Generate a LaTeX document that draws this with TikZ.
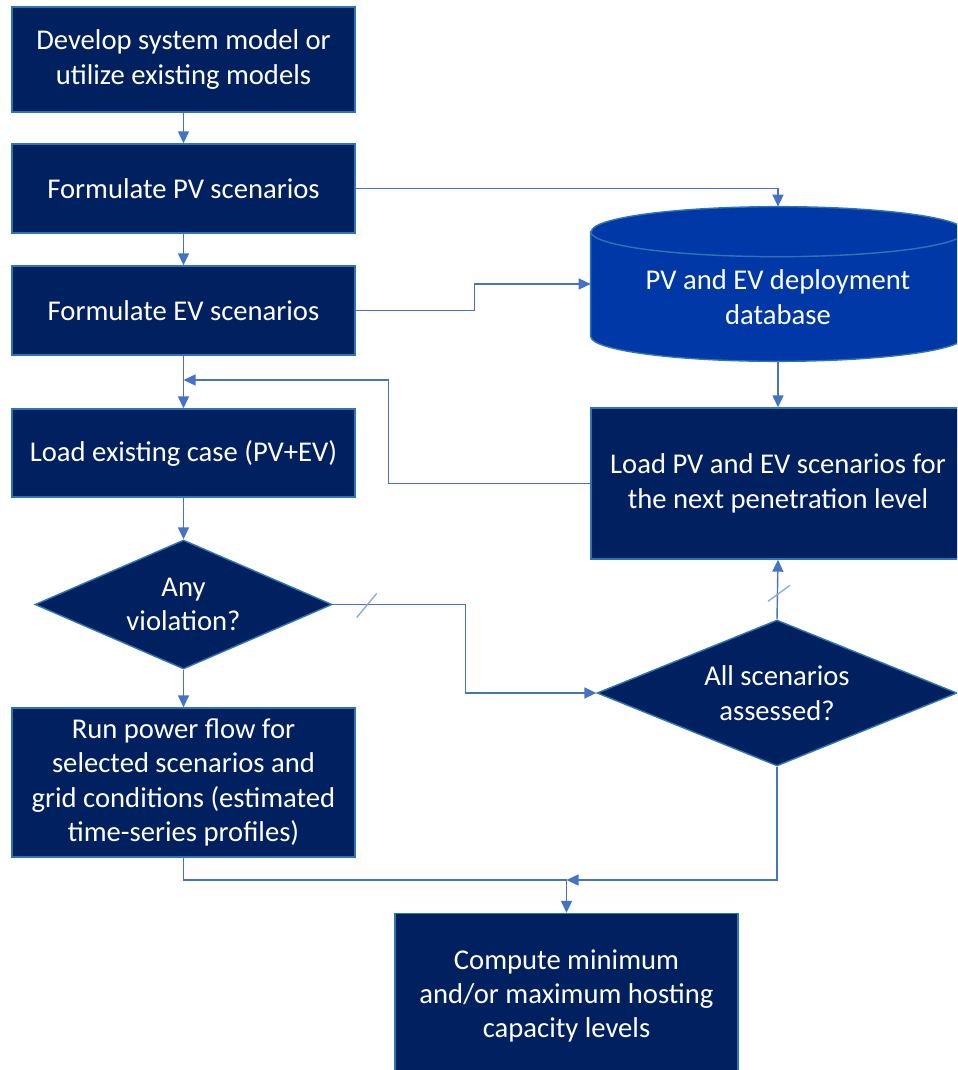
\documentclass[tikz,border=0pt]{standalone}
\usepackage{fontspec}
\setmainfont{Carlito}
\usetikzlibrary{shapes.geometric,arrows.meta}

\definecolor{navy}{HTML}{002060}
\definecolor{edgeblue}{HTML}{2E75B6}
\definecolor{dbblue}{HTML}{0038A8}
\definecolor{arrowblue}{HTML}{4472C4}
\definecolor{slashblue}{HTML}{8FAADC}

\tikzset{
	boxfont/.style={text=white, font=\fontsize{16.3}{19.6}\selectfont},
	procbox/.style={rectangle, draw=edgeblue, line width=0.8pt, fill=navy, boxfont, align=center, inner sep=0pt, minimum width=6.86cm},
	decbox/.style={diamond, draw=edgeblue, line width=0.8pt, fill=navy, boxfont, align=center, inner sep=0pt},
	dbnode/.style={rectangle, inner sep=0pt, minimum width=7.48cm, minimum height=3.08cm},
	dbshape/.style={fill=dbblue, draw=edgeblue, line width=0.8pt},
	flow/.style={draw=arrowblue, line width=0.8pt, -{Triangle[length=0.24cm,width=0.22cm]}},
	slash/.style={draw=slashblue, line width=0.8pt}
}

\begin{document}
\begin{tikzpicture}[x=0.02cm,y=-0.02cm]
	\clip (0,0) rectangle (957,1070);

	% left column
	\node[procbox, minimum height=2.1cm] (dev) at (183.5,59.5) {Develop system model or\\utilize existing models};
	\node[procbox, minimum height=1.78cm] (pv) at (183.5,188.5) {Formulate PV scenarios};
	\node[procbox, minimum height=1.78cm] (ev) at (183.5,310.5) {Formulate EV scenarios};
	\node[procbox, minimum height=1.76cm] (load) at (183.5,453) {Load existing case (PV+EV)};
	\node[decbox, aspect=2.3, minimum width=5.94cm, minimum height=2.58cm] (viol) at (183.5,604.5) {Any\\violation?};
	\node[procbox, minimum height=2.98cm] (run) at (183.5,782.5) {Run power flow for\\selected scenarios and\\grid conditions (estimated\\time-series profiles)};
	\node[procbox, minimum height=3.3cm] (comp) at (566.5,996) {Compute minimum\\and/or maximum hosting\\capacity levels};

	% right column
	\node[dbnode] (db) at (778,284) {};
	\filldraw[dbshape] ([yshift=-0.5cm]db.north west) -- ([yshift=0.5cm]db.south west)
		arc[start angle=180, end angle=360, x radius=3.74cm, y radius=0.5cm]
		-- ([yshift=-0.5cm]db.north east)
		arc[start angle=0, end angle=180, x radius=3.74cm, y radius=0.5cm] -- cycle;
	\draw[dbshape, fill=none] ([yshift=-0.5cm]db.north west) arc[start angle=180, end angle=360, x radius=3.74cm, y radius=0.5cm];
	\node[boxfont, align=center] (dbtext) at ([yshift=-0.26cm]db.center) {PV and EV deployment\\database};
	\node[procbox, minimum width=7.48cm, minimum height=3.02cm] (next) at (778,483.5) {Load PV and EV scenarios for\\the next penetration level};
	\node[decbox, aspect=2.47, minimum width=7.2cm, minimum height=2.92cm] (all) at (777,693) {All scenarios\\assessed?};

	\coordinate (merge) at (183.5,380);
	\coordinate (join) at (566.5,880);

	% connectors
	\draw[flow] (dev) -- (pv);
	\draw[flow] (pv) -- (ev);
	\draw[flow] (ev) -- (load);
	\draw[flow] (load) -- (viol);
	\draw[flow] (viol) -- (run);
	\draw[flow] (pv.east) -| (db.north);
	\draw[flow] (ev.east) -- ++(119,0) |- (db.west);
	\draw[flow] (db.south) -- (next.north);
	\draw[flow] (next.west) -- ++(-202,0) |- (merge);
	\draw[flow] (viol.east) -- ++(133,0) |- (all.west);
	\draw[flow] (all.north) -- (next.south);
	\draw[flow] (run.south) |- (join) -- (comp.north);
	\draw[flow] (all.south) |- (join);

	% slash marks
	\draw[slash] (viol.east) ++(24,13) -- ++(20,-24);
	\draw[slash] (all.north) ++(-9,-18) -- ++(22,-16);
\end{tikzpicture}
\end{document}
